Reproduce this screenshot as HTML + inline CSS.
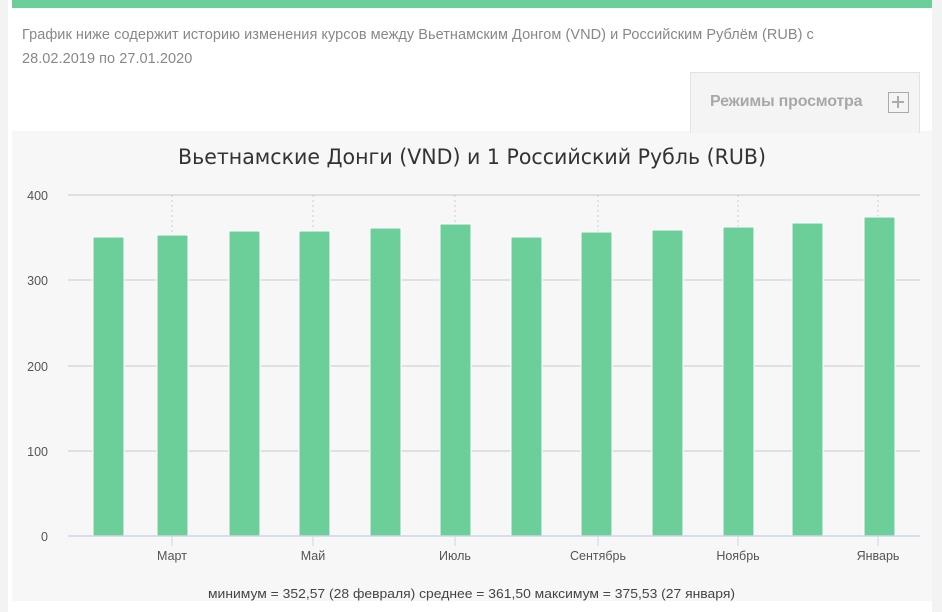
<!DOCTYPE html>
<html><head><meta charset="utf-8"><style>
body{margin:0;width:942px;height:612px;background:#f3f3f3;font-family:"Liberation Sans",sans-serif;overflow:hidden;position:relative}
.card{position:absolute;left:8px;top:0;width:924px;height:612px;background:#fff}
.top{position:absolute;left:12px;top:0;width:920px;height:8px;background:#6ccf9a}
.desc{position:absolute;left:22px;top:23px;font-size:14.5px;line-height:24px;color:#888;width:900px;letter-spacing:0.05px}
.mode{position:absolute;left:690px;top:72px;width:228px;height:60px;background:#f4f4f4;border:1px solid #e2e2e2;border-bottom:none}
.mode span{position:absolute;left:19px;top:20px;font-size:16px;font-weight:bold;color:#a8a8a8;letter-spacing:-0.2px}
.plus{position:absolute;left:197px;top:19px;width:21px;height:21px;border:1.5px solid #aaa;box-sizing:border-box}
.plus:before{content:"";position:absolute;left:3px;top:8px;width:12px;height:2px;background:#aaa}
.plus:after{content:"";position:absolute;left:8px;top:3px;width:2px;height:12px;background:#aaa}
svg{position:absolute;left:0;top:0}
</style></head><body>
<div class="card"></div>
<div class="top"></div>
<div class="desc">График ниже содержит историю изменения курсов между Вьетнамским Донгом (VND) и Российским Рублём (RUB) с<br>28.02.2019 по 27.01.2020</div>
<svg width="942" height="612">
<rect x="12" y="131" width="920" height="470" fill="#f7f7f7"/>
<text x="178" y="164" textLength="588" lengthAdjust="spacingAndGlyphs" font-family="DejaVu Sans, sans-serif" font-size="21" fill="#333">Вьетнамские Донги (VND) и 1 Российский Рубль (RUB)</text>
<g stroke="#d8d8d8" stroke-width="1.5">
<line x1="68" y1="195" x2="920" y2="195"/><line x1="68" y1="280" x2="920" y2="280"/><line x1="68" y1="366" x2="920" y2="366"/><line x1="68" y1="451" x2="920" y2="451"/>
</g>
<g stroke="#ccc" stroke-width="1" stroke-dasharray="2,3">
<line x1="172" y1="195" x2="172" y2="536"/><line x1="313" y1="195" x2="313" y2="536"/><line x1="455" y1="195" x2="455" y2="536"/><line x1="598" y1="195" x2="598" y2="536"/><line x1="738" y1="195" x2="738" y2="536"/><line x1="878" y1="195" x2="878" y2="536"/>
</g>
<g fill="#6ccf9a" stroke="#fff" stroke-width="1">
<rect x="93" y="237" width="31" height="299"/><rect x="157" y="235" width="31" height="301"/><rect x="229" y="231" width="31" height="305"/><rect x="299" y="231" width="31" height="305"/><rect x="370" y="228" width="31" height="308"/><rect x="440" y="224" width="31" height="312"/><rect x="511" y="237" width="31" height="299"/><rect x="581" y="232" width="31" height="304"/><rect x="652" y="230" width="31" height="306"/><rect x="723" y="227" width="31" height="309"/><rect x="792" y="223" width="31" height="313"/><rect x="864" y="217" width="31" height="319"/>
</g>
<line x1="68" y1="536" x2="920" y2="536" stroke="#ccd6eb" stroke-width="1.5"/>
<g stroke="#ccd6eb"><line x1="172" y1="536" x2="172" y2="546"/><line x1="313" y1="536" x2="313" y2="546"/><line x1="455" y1="536" x2="455" y2="546"/><line x1="598" y1="536" x2="598" y2="546"/><line x1="738" y1="536" x2="738" y2="546"/><line x1="878" y1="536" x2="878" y2="546"/></g>
<g font-size="12.5" fill="#555" text-anchor="end">
<text x="48" y="200">400</text><text x="48" y="285">300</text><text x="48" y="371">200</text><text x="48" y="456">100</text><text x="48" y="541">0</text>
</g>
<g font-size="12.5" fill="#555" text-anchor="middle">
<text x="172" y="560">Март</text><text x="313" y="560">Май</text><text x="455" y="560">Июль</text><text x="598" y="560">Сентябрь</text><text x="738" y="560">Ноябрь</text><text x="878" y="560">Январь</text>
</g>
<text x="208" y="598" textLength="527" lengthAdjust="spacingAndGlyphs" font-size="13" fill="#444">минимум = 352,57 (28 февраля) среднее = 361,50 максимум = 375,53 (27 января)</text>
</svg>
<div class="mode"><span>Режимы просмотра</span><div class="plus"></div></div>
</body></html>
